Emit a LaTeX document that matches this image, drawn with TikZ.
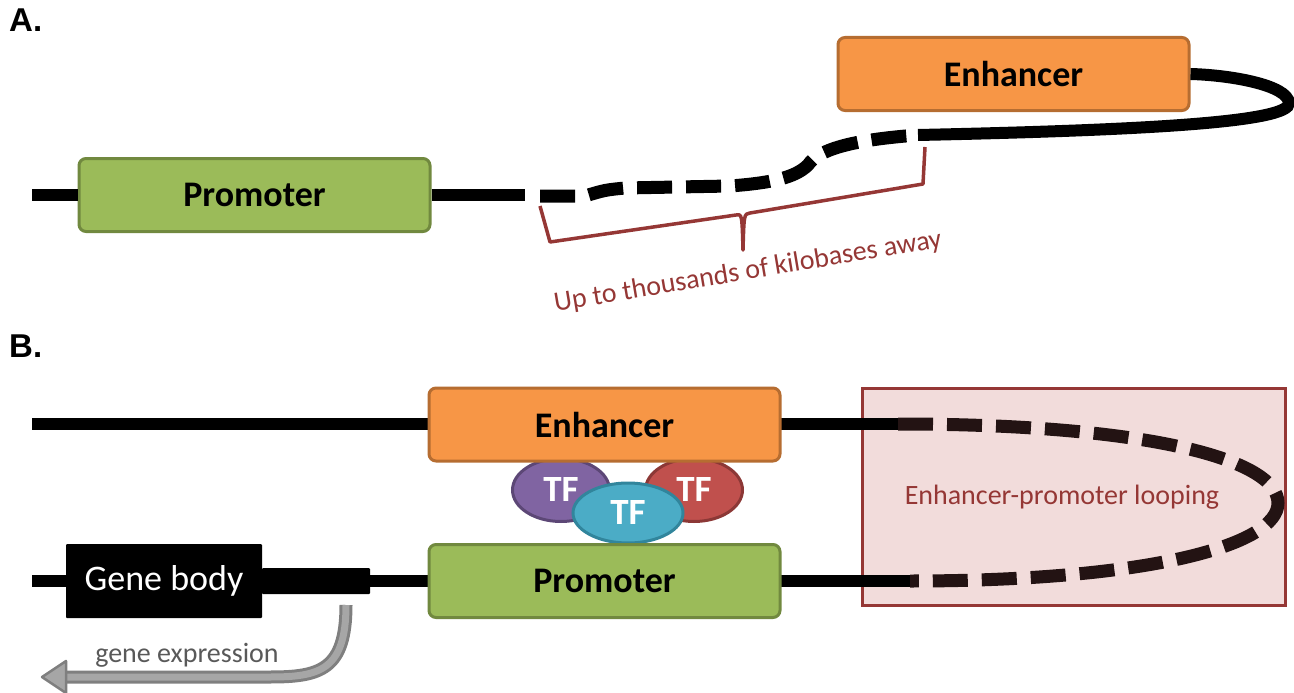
\documentclass[tikz,border=0pt]{standalone}
\usepackage{fontspec}
\setmainfont{Carlito}
\newfontfamily\panelfont{Liberation Sans}
\usetikzlibrary{shapes.geometric}
\definecolor{enhfill}{HTML}{F79646}
\definecolor{enhdraw}{HTML}{B66D31}
\definecolor{promfill}{HTML}{9BBB59}
\definecolor{promdraw}{HTML}{71893F}
\definecolor{tfpurple}{HTML}{8064A2}
\definecolor{tfpurpledraw}{HTML}{5C4776}
\definecolor{tfred}{HTML}{C0504D}
\definecolor{tfreddraw}{HTML}{8C3836}
\definecolor{tfcyan}{HTML}{4BACC6}
\definecolor{tfcyandraw}{HTML}{31859C}
\definecolor{brown}{HTML}{953735}
\definecolor{loopfill}{HTML}{F2DCDB}
\definecolor{loopdna}{HTML}{231313}
\definecolor{arrowfill}{HTML}{A6A6A6}
\definecolor{arrowdraw}{HTML}{7F7F7F}
\definecolor{exprtext}{HTML}{595959}
\begin{document}
\begin{tikzpicture}[x=1pt,y=-1pt,
	panel/.style={anchor=base west,inner sep=0,font=\panelfont\bfseries\fontsize{33}{36}\selectfont},
	dna/.style={line width=12pt,black},
	dnadash/.style={line width=13pt,dash pattern=on 35pt off 14pt},
	box/.style={rounded corners=7pt,line width=3pt,minimum width=351pt,minimum height=73pt,
		font=\bfseries\fontsize{36}{40}\selectfont},
	enhbox/.style={box,fill=enhfill,draw=enhdraw},
	prombox/.style={box,fill=promfill,draw=promdraw},
	tf/.style={ellipse,line width=3pt,minimum width=97pt,minimum height=63pt,inner sep=0,
		text=white,font=\bfseries\fontsize{37}{40}\selectfont},
	redtext/.style={text=brown,font=\fontsize{28}{31}\selectfont}]
\useasboundingbox (0,0) rectangle (1294,693);
\node[panel] (labA) at (9,32) {A.};
\node[panel] (labB) at (9,357) {B.};
\node[prombox] (promA) at (254.5,195) {Promoter};
\node[enhbox] (enhA) at (1013.5,74) {Enhancer};
\coordinate (dashA) at (540,196);
\coordinate (solidA) at (918,135);
\draw[dna] (32,195) -- (promA.west);
\draw[dna] (promA.east) -- (525,195);
\draw[dna,dnadash] (dashA) -- (585,196) .. controls (605,190) .. (625,188) -- (730,186)
	.. controls (770,183) and (795,178) .. (808,165) .. controls (818,150) and (850,140) .. (solidA);
\draw[dna] (solidA) .. controls (1150,130) and (1290,122) .. (1289,103)
	.. controls (1288,85) and (1230,75) .. (enhA.east);
\draw[brown,line width=3.5pt,line join=round] (540,206) -- (550,242) -- (736,215)
	.. controls (742,214) .. (743,250) .. controls (744,214) .. (750,213) -- (923,184) -- (925,147);
\node[redtext,rotate=9.5] (away) at (748,272) {Up to thousands of kilobases away};
\node[draw=brown,fill=loopfill,line width=3pt,minimum width=423pt,minimum height=217pt] (loop) at (1073.5,496.5) {};
\node[redtext] (looptext) at (1062,497) {Enhancer-promoter looping};
\draw[dna] (32,424) -- (430,424);
\draw[dna] (779,424) -- (898,424);
\draw[dna,dnadash,loopdna] (898,424) .. controls (1150,424) and (1278,460) .. (1278,503)
	.. controls (1278,545) and (1150,581) .. (910,581);
\draw[dna] (910,581) -- (779,581);
\draw[dna] (32,581) -- (430,581);
\node[tf,fill=tfpurple,draw=tfpurpledraw] (tf1) at (561,490) {TF};
\node[tf,fill=tfred,draw=tfreddraw] (tf2) at (694,490) {TF};
\node[tf,fill=tfcyan,draw=tfcyandraw,minimum width=110pt,minimum height=60pt] (tf3) at (628,513) {TF};
\node[enhbox] (enhB) at (604.5,424.5) {Enhancer};
\node[prombox] (promB) at (604.5,581) {Promoter};
\node[fill=black,minimum width=108pt,minimum height=26pt,inner sep=0,rounded corners=1pt] (tail) at (316,581) {};
\node[fill=black,minimum width=196pt,minimum height=74pt,rounded corners=1pt,text=white,
	font=\fontsize{36}{39}\selectfont] (gene) at (164,581) {Gene body};
\coordinate (exprstart) at (346,605);
\coordinate (exprend) at (66,677);
\draw[arrowdraw,line width=13pt] (exprstart) .. controls (346,670) and (320,677) .. (270,677) -- (exprend);
\draw[arrowfill,line width=7pt] (exprstart) .. controls (346,670) and (320,677) .. (270,677) -- (exprend);
\draw[fill=arrowfill,draw=arrowdraw,line width=2.5pt,line join=round] (66,661) -- (42,677) -- (66,693) -- cycle;
\node[text=exprtext,font=\fontsize{28}{31}\selectfont] (expr) at (187,655) {gene expression};
\end{tikzpicture}
\end{document}
